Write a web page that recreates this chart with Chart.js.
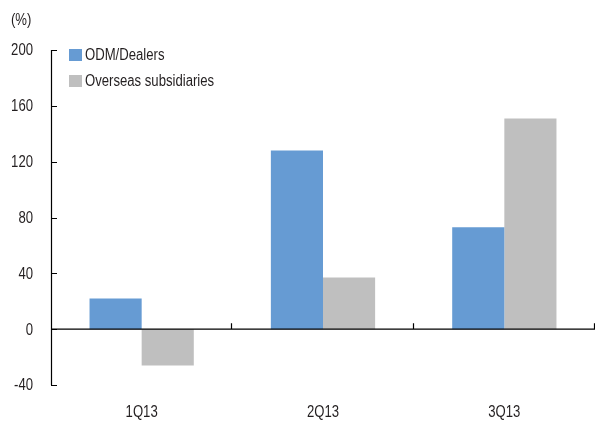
<!DOCTYPE html>
<html>
<head>
<meta charset="utf-8">
<script src="https://cdn.jsdelivr.net/npm/chart.js@4.4.1/dist/chart.umd.min.js"></script>
<style>
  html, body { margin: 0; padding: 0; background: #fff; }
  #wrap { width: 595px; height: 423px; }
</style>
</head>
<body>
<div id="wrap"><canvas id="chart" width="595" height="423"></canvas></div>
<script>
const quarters = ['1Q13', '2Q13', '3Q13'];
const odmDealers = [22, 128, 73];
const overseasSubs = [-26, 37, 151];
const yTicks = [-40, 0, 40, 80, 120, 160, 200];

const textColor = '#231f20';
const fontFamily = '"Liberation Sans", Arial, sans-serif';
const fontSize = 16;
const squeeze = 0.82; // condensed look

// draws horizontally squeezed text
function drawText(ctx, str, x, y, align) {
    ctx.save();
    ctx.translate(x, y);
    ctx.scale(squeeze, 1);
    ctx.textAlign = align;
    ctx.textBaseline = 'middle';
    ctx.fillText(str, 0, 0);
    ctx.restore();
}

// axes, labels, unit and legend drawn by hand
const axesPlugin = {
    id: 'axesPlugin',
    afterDraw(chart) {
        const ctx = chart.ctx;
        const area = chart.chartArea;
        const x = chart.scales.x;
        const y = chart.scales.y;
        const zeroY = y.getPixelForValue(0);
        const step = x.getPixelForValue(1) - x.getPixelForValue(0);

        ctx.save();
        ctx.strokeStyle = '#000';
        ctx.lineWidth = 1.2;

        // y axis with inward ticks
        ctx.beginPath();
        ctx.moveTo(area.left + 0.5, y.getPixelForValue(200));
        ctx.lineTo(area.left + 0.5, y.getPixelForValue(-40));
        yTicks.forEach(v => {
            const py = Math.round(y.getPixelForValue(v)) + 0.5;
            ctx.moveTo(area.left, py);
            ctx.lineTo(area.left + 6, py);
        });
        ctx.stroke();

        // zero line with ticks between categories
        ctx.beginPath();
        ctx.moveTo(area.left, zeroY);
        ctx.lineTo(area.right, zeroY);
        quarters.forEach((q, i) => {
            const px = Math.round(x.getPixelForValue(i) + step / 2) - 0.5;
            ctx.moveTo(px, zeroY);
            ctx.lineTo(px, zeroY - 6);
        });
        ctx.stroke();

        ctx.fillStyle = textColor;
        ctx.font = fontSize + 'px ' + fontFamily;

        // y tick labels
        yTicks.forEach(v => drawText(ctx, String(v), 33, y.getPixelForValue(v) + 1, 'right'));

        // category labels
        quarters.forEach((q, i) => drawText(ctx, q, x.getPixelForValue(i), 413, 'center'));

        // unit label
        drawText(ctx, '(%)', 11, 21, 'left');

        // legend
        chart.data.datasets.forEach((ds, i) => {
            const ly = 55 + i * 26;
            ctx.fillStyle = ds.backgroundColor;
            ctx.fillRect(69, ly - 6, 13, 12);
            ctx.fillStyle = textColor;
            drawText(ctx, ds.label, 85, ly + 1, 'left');
        });
        ctx.restore();
    }
};

new Chart(document.getElementById('chart'), {
    type: 'bar',
    data: {
        labels: quarters,
        datasets: [
            { label: 'ODM/Dealers', data: odmDealers, backgroundColor: '#669bd3' },
            { label: 'Overseas subsidiaries', data: overseasSubs, backgroundColor: '#bfbfbf' }
        ]
    },
    options: {
        responsive: false,
        animation: false,
        layout: { padding: { top: 50, right: 0, bottom: 0, left: 0 } },
        plugins: { legend: { display: false }, tooltip: { enabled: false } },
        datasets: { bar: { categoryPercentage: 0.575, barPercentage: 1 } },
        scales: {
            x: {
                grid: { display: false, drawTicks: false },
                border: { display: false },
                ticks: { display: false },
                afterFit(scale) { scale.height = 38; }
            },
            y: {
                min: -40,
                max: 200,
                afterBuildTicks(scale) { scale.ticks = yTicks.map(v => ({ value: v })); },
                grid: { display: false, drawTicks: false },
                border: { display: false },
                ticks: { display: false },
                afterFit(scale) { scale.width = 51; }
            }
        }
    },
    plugins: [axesPlugin]
});
</script>
</body>
</html>
